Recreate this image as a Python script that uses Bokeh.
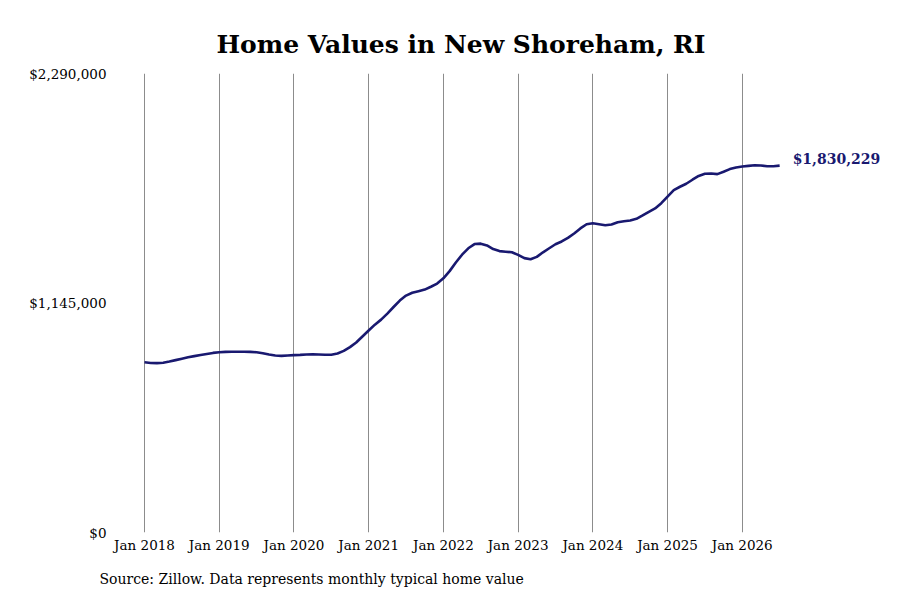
from bokeh.plotting import figure
from bokeh.models import ColumnDataSource, FixedTicker, Title
from bokeh.core.properties import value
from bokeh.embed import file_html
from bokeh.resources import INLINE

# monthly typical home value, Jan 2018 .. Jul 2026
months = list(range(103))
home_values = [
    849000, 846000, 845000, 847000, 853000, 860000, 867000, 874000, 880000, 886000, 891000, 896000,
    899000, 901000, 902000, 902000, 902000, 901000, 899000, 894000, 888000, 883000, 881000, 883000,
    885000, 886000, 888000, 889000, 888000, 887000, 887000, 893000, 906000, 925000, 948000, 978000,
    1008000, 1037000, 1062000, 1092000, 1125000, 1157000, 1182000, 1196000, 1204000, 1212000, 1226000, 1242000,
    1268000, 1304000, 1347000, 1386000, 1418000, 1439000, 1441000, 1432000, 1414000, 1404000, 1401000, 1398000,
    1385000, 1369000, 1363000, 1375000, 1398000, 1418000, 1438000, 1452000, 1470000, 1492000, 1517000, 1538000,
    1543000, 1538000, 1533000, 1537000, 1548000, 1553000, 1557000, 1565000, 1582000, 1600000, 1617000, 1643000,
    1676000, 1708000, 1725000, 1740000, 1760000, 1779000, 1790000, 1791000, 1788000, 1800000, 1813000, 1821000,
    1826000, 1829000, 1832000, 1831000, 1827000, 1827000, 1830229,
]

year_ticks = [0, 12, 24, 36, 48, 60, 72, 84, 96]
year_labels = ["Jan 2018", "Jan 2019", "Jan 2020", "Jan 2021", "Jan 2022",
               "Jan 2023", "Jan 2024", "Jan 2025", "Jan 2026"]
value_ticks = [0, 1145000, 2290000]
value_labels = ["$0", "$1,145,000", "$2,290,000"]

FONT = "DejaVu Serif"
NAVY = "#191970"

p = figure(width=892, height=600, output_backend="svg", toolbar_location=None,
           x_range=(-5.46, 118.2), y_range=(0, 2290000),
           min_border_left=110, min_border_right=12, min_border_top=73, min_border_bottom=66)

p.outline_line_color = None
p.background_fill_color = "white"

p.xaxis.ticker = FixedTicker(ticks=year_ticks)
p.xaxis.major_label_overrides = dict(zip(year_ticks, year_labels))
p.yaxis.ticker = FixedTicker(ticks=value_ticks)
p.yaxis.major_label_overrides = dict(zip(value_ticks, value_labels))

for ax in (p.xaxis, p.yaxis):
    ax.axis_line_color = None
    ax.major_tick_line_color = None
    ax.minor_tick_line_color = None
    ax.major_tick_out = 0
    ax.major_tick_in = 0
    ax.major_label_text_font = FONT
    ax.major_label_text_font_size = "13.5px"
    ax.major_label_text_color = "black"
    ax.major_label_standoff = 4

p.xgrid.ticker = FixedTicker(ticks=year_ticks)
p.xgrid.grid_line_color = "#8c8c8c"
p.xgrid.grid_line_width = 1
p.ygrid.grid_line_color = None

src = ColumnDataSource(dict(x=months, y=home_values))
p.line("x", "y", source=src, line_color=NAVY, line_width=2.6)

last = ColumnDataSource(dict(x=[months[-1]], y=[home_values[-1]],
                             t=["${:,.0f}".format(home_values[-1])]))
p.text("x", "y", text="t", source=last, x_offset=13, y_offset=-7,
       text_align="left", text_baseline="middle", text_font=value(FONT),
       text_font_size="14px", text_font_style="bold", text_color=NAVY)

p.add_layout(Title(text="Home Values in New Shoreham, RI",
                   align="left", offset=106, standoff=30, text_font=FONT,
                   text_font_size="25px", text_font_style="bold", text_color="black"), "above")

p.add_layout(Title(text="Source: Zillow. Data represents monthly typical home value",
                   align="left", offset=-11, standoff=27, text_font=FONT,
                   text_font_size="14px", text_font_style="normal", text_color="black"), "below")

open("out.html", "w").write(file_html(p, INLINE))
